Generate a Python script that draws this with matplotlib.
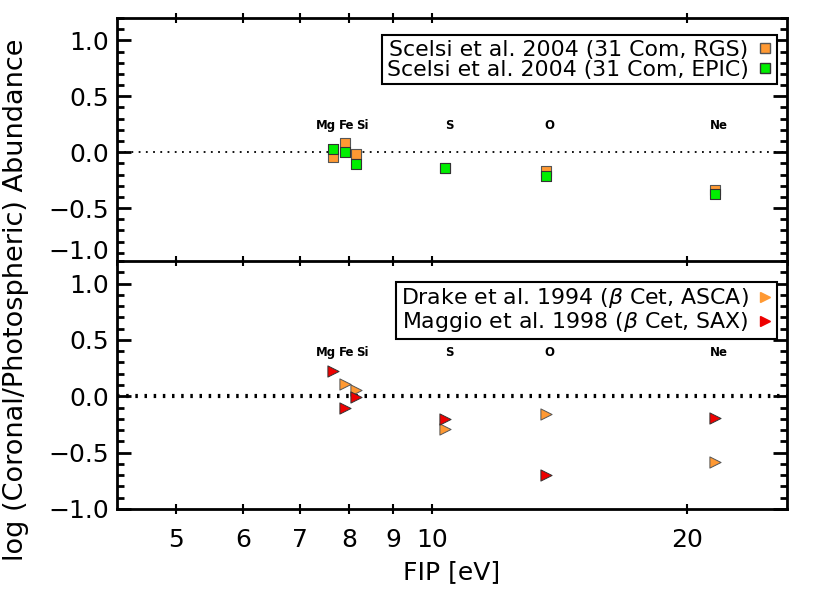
import matplotlib
matplotlib.use("Agg")
import matplotlib.pyplot as plt
import matplotlib.ticker as mticker
from matplotlib.lines import Line2D

plt.rcParams["font.family"] = ["DejaVu Sans"]

# ── Data ──────────────────────────────────────────────────────────────────────
elements = ["Mg", "Fe", "Si", "S", "O", "Ne"]
fip      = [7.646, 7.902, 8.152, 10.360, 13.618, 21.565]

# top panel: 31 Com (Scelsi et al. 2004)
scelsi_rgs  = [-0.04, 0.08, -0.02, -0.14, -0.17, -0.34]
scelsi_epic = [0.03, 0.00, -0.11, -0.14, -0.21, -0.37]

# bottom panel: beta Cet
drake_el   = ["Fe", "Si", "S", "O", "Ne"]
drake_vals = [0.11, 0.06, -0.29, -0.155, -0.58]
maggio_el   = ["Mg", "Fe", "Si", "S", "O", "Ne"]
maggio_vals = [0.22, -0.10, -0.01, -0.20, -0.70, -0.19]

xticks = [5, 6, 7, 8, 9, 10, 20]
yticks = [-1.0, -0.5, 0.0, 0.5, 1.0]

ORANGE = "#ff9933"
GREEN  = "#00ee00"
RED    = "#ee0000"

fip_of = dict(zip(elements, fip))

W, H = 830, 593
fig = plt.figure(figsize=(W / 100, H / 100), dpi=100)

left, right = 117 / W, 787 / W
ax_top = fig.add_axes([left, 1 - 264 / H, right - left, (264 - 18) / H])
ax_bot = fig.add_axes([left, 1 - 509 / H, right - left, (509 - 261) / H])


def style_axis(ax):
    ax.set_xscale("log")
    ax.set_xlim(4.26, 26.2)
    ax.set_ylim(-1.0, 1.2)
    ax.xaxis.set_major_locator(mticker.FixedLocator(xticks))
    ax.xaxis.set_minor_locator(mticker.NullLocator())
    ax.xaxis.set_major_formatter(mticker.FixedFormatter([str(t) for t in xticks]))
    ax.set_yticks(yticks)
    ax.yaxis.set_minor_locator(mticker.MultipleLocator(0.1))
    ax.yaxis.set_major_formatter(mticker.FuncFormatter(
        lambda v, p: f"{v:.1f}".replace("-", "\u2212")))
    ax.tick_params(axis="x", which="major", direction="inout", length=7,
                   width=1.5, top=True, labelsize=18, pad=10)
    ax.tick_params(axis="y", which="major", direction="in", length=10,
                   width=2, right=True, labelsize=18, pad=6)
    ax.tick_params(axis="y", which="minor", direction="in", length=5,
                   width=2, right=True)
    for s in ax.spines.values():
        s.set_linewidth(2)


for ax in (ax_top, ax_bot):
    style_axis(ax)

ax_top.tick_params(axis="x", labelbottom=False)
# the lowest label of the top panel is nudged up, as in the original
for lab in ax_top.get_yticklabels():
    if lab.get_text() == "\u22121.0":
        lab.set_va("bottom")

# ── Top panel ─────────────────────────────────────────────────────────────────
ax_top.axhline(0, color="black", ls=(0, (1, 3)), lw=1.3, zorder=1)
ax_top.scatter(fip, scelsi_rgs, marker="s", s=55, color=ORANGE,
               edgecolors="#555555", linewidths=0.8, zorder=3)
ax_top.scatter(fip, scelsi_epic, marker="s", s=55, color=GREEN,
               edgecolors="#333333", linewidths=0.8, zorder=4)

# ── Bottom panel ──────────────────────────────────────────────────────────────
ax_bot.axhline(0, color="black", ls=(0, (0.6, 1.6)), lw=3, zorder=1)
ax_bot.scatter([fip_of[e] for e in drake_el], drake_vals, marker=">", s=65,
               color=ORANGE, edgecolors="#555555", linewidths=0.7, zorder=3)
ax_bot.scatter([fip_of[e] for e in maggio_el], maggio_vals, marker=">", s=65,
               color=RED, edgecolors="#333333", linewidths=0.7, zorder=4)

# element names above the points (offsets in points)
label_shift = {"Mg": -5.0, "Fe": 1.0, "Si": 4.0}
for ax, ylab in ((ax_top, 0.24), (ax_bot, 0.39)):
    for el, x in zip(elements, fip):
        ax.annotate(el, (x, ylab), xytext=(label_shift.get(el, 3.0), 0),
                    textcoords="offset points", ha="center", va="center",
                    fontsize=8.5, fontweight="bold")

# ── Legends ───────────────────────────────────────────────────────────────────
def legend(ax, handles, labels, anchor):
    leg = ax.legend(handles, labels, loc="upper right", bbox_to_anchor=anchor,
                    markerfirst=False, fancybox=False, framealpha=1,
                    edgecolor="black", fontsize=15.8, handlelength=0.7,
                    handletextpad=0.4, borderpad=0.2, labelspacing=0.0,
                    borderaxespad=0.0)
    leg.get_frame().set_linewidth(1.5)


legend(ax_top,
       [Line2D([], [], ls="", marker="s", ms=7.5, mfc=ORANGE, mec="#555555"),
        Line2D([], [], ls="", marker="s", ms=7.5, mfc=GREEN, mec="#333333")],
       ["Scelsi et al. 2004 (31 Com, RGS)", "Scelsi et al. 2004 (31 Com, EPIC)"],
       (0.985, 0.93))
legend(ax_bot,
       [Line2D([], [], ls="", marker=">", ms=7, mfc=ORANGE, mec=ORANGE),
        Line2D([], [], ls="", marker=">", ms=7, mfc=RED, mec=RED)],
       [r"Drake et al. 1994 ($\beta$ Cet, ASCA)",
        r"Maggio et al. 1998 ($\beta$ Cet, SAX)"],
       (0.985, 0.915))

ax_bot.set_xlabel("FIP [eV]", fontsize=18, labelpad=6)
fig.text(16 / W, 0.495, "log (Coronal/Photospheric) Abundance", rotation=90,
         ha="center", va="center", fontsize=19.5)

fig.savefig("out.png", dpi=100)
